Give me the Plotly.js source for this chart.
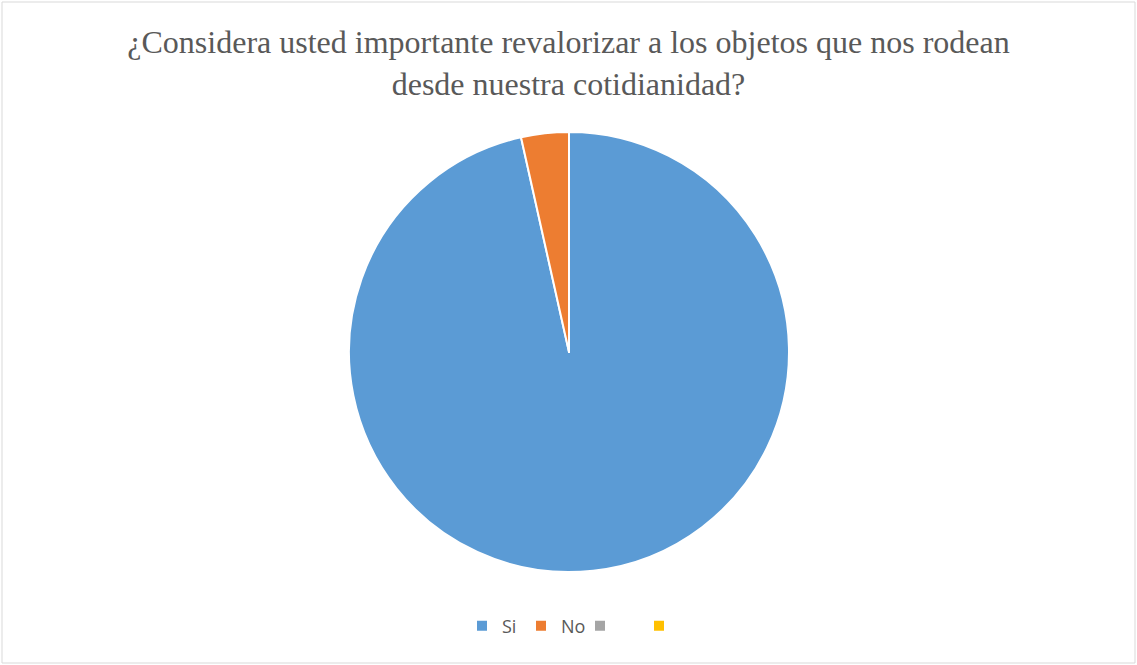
<!DOCTYPE html>
<html><head><meta charset="utf-8">
<script src="https://cdn.plot.ly/plotly-3.0.1.min.js"></script>
<style>html,body{margin:0;padding:0;background:#fff}</style>
</head><body>
<div id="chart" style="width:1137px;height:665px"></div>
<script>
const labels = ["Si", "No", " ", "  "];
const values = [96.5, 3.5, 0, 0];
const colors = ["#5B9BD5", "#ED7D31", "#A5A5A5", "#FFC000"];
const titleText = "¿Considera usted importante revalorizar a los objetos que nos rodean<br>desde nuestra cotidianidad?";

const L = 100, R = 99, T = 132, B = 93;
const W = 1137, H = 665;
const pw = W - L - R, ph = H - T - B;
const px = x => (x - L) / pw;
const py = y => (H - B - y) / ph;

const data = [{
  type: "pie",
  labels: labels,
  values: values,
  marker: {colors: colors, line: {color: "#ffffff", width: 2}},
  sort: false,
  direction: "clockwise",
  rotation: 0,
  textinfo: "none",
  hoverinfo: "label+value+percent"
}];

const layout = {
  width: W, height: H,
  margin: {l: L, r: R, t: T, b: B},
  paper_bgcolor: "#ffffff",
  title: {
    text: titleText,
    font: {family: "Liberation Serif, Times New Roman, serif", size: 32, color: "#595959"},
    x: 0.5, xanchor: "center",
    y: 1 - 53 / H, yanchor: "top", yref: "container"
  },
  showlegend: true,
  legend: {
    orientation: "h",
    x: px(580), xanchor: "center",
    y: py(626), yanchor: "middle",
    entrywidth: 14,
    font: {family: "Open Sans, Liberation Sans, sans-serif", size: 18, color: "#595959"},
    traceorder: "normal"
  },
  shapes: [{
    type: "rect", xref: "paper", yref: "paper",
    x0: px(2), x1: px(1135), y0: py(663), y1: py(2),
    line: {color: "#D9D9D9", width: 1}, fillcolor: "rgba(0,0,0,0)"
  }]
};

Plotly.newPlot("chart", data, layout, {displayModeBar: false});
</script>
</body></html>
